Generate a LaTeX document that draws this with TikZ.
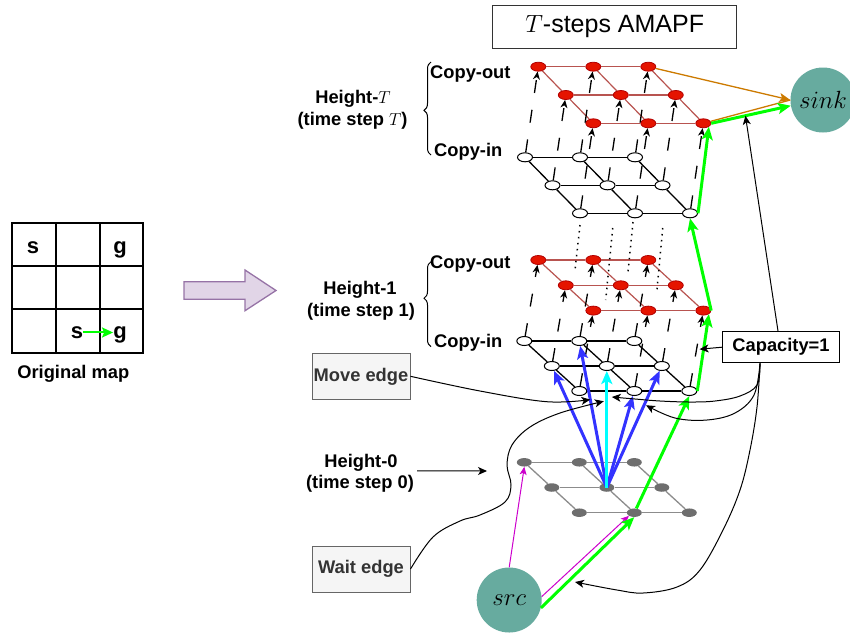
\documentclass[tikz,border=0pt]{standalone}
\usepackage{fontspec}
\setmainfont{Liberation Sans}
\usetikzlibrary{arrows.meta,shapes.geometric,decorations.pathreplacing,calc}

\definecolor{tealnode}{HTML}{67AB9F}
\definecolor{redfill}{HTML}{E51400}
\definecolor{reddraw}{HTML}{B20000}
\definecolor{redline}{HTML}{B85450}
\definecolor{grayfill}{HTML}{6E6E6E}
\definecolor{grayline}{HTML}{8C8C8C}
\definecolor{bluearr}{HTML}{3333FF}
\definecolor{cyanarr}{HTML}{00FFFF}
\definecolor{greenarr}{HTML}{00FF00}
\definecolor{magarr}{HTML}{CC00CC}
\definecolor{orangearr}{HTML}{CC7A00}
\definecolor{purplefill}{HTML}{E1D5E7}
\definecolor{purpledraw}{HTML}{9673A6}
\definecolor{notefill}{HTML}{F5F5F5}
\definecolor{notedraw}{HTML}{666666}
\definecolor{notetext}{HTML}{333333}

\tikzset{
  lbl/.style={font=\fontsize{18.3}{22}\selectfont\bfseries, inner sep=0pt},
  cellchar/.style={font=\fontsize{22}{24}\selectfont\bfseries, inner sep=0pt, anchor=base},
  outnode/.style={ellipse, draw=reddraw, fill=redfill, line width=0.8pt,
    minimum width=15pt, minimum height=9pt, inner sep=0pt},
  innode/.style={ellipse, draw=black, fill=white, line width=1pt,
    minimum width=15pt, minimum height=9pt, inner sep=0pt},
  basenode/.style={ellipse, fill=grayfill, minimum width=15pt, minimum height=8.5pt, inner sep=0pt},
  outedge/.style={draw=redline, line width=1.2pt},
  inedge/.style={draw=black, line width=1.3pt},
  baseedge/.style={draw=grayline, line width=1.3pt},
  vlink/.style={draw=black, line width=1.3pt, dash pattern=on 13pt off 17pt,
    -{Stealth[length=8pt,width=7pt,inset=2.5pt]}},
  dotline/.style={draw=black, line width=1.5pt, dash pattern=on 1.5pt off 4.5pt},
  fatarrow/.style={line width=3pt, -{Stealth[length=13pt,width=11pt,inset=3pt]}},
  pointer/.style={draw=black, line width=1pt, -{Stealth[length=9pt,width=8pt,inset=2.5pt]}},
  magline/.style={color=magarr, line width=1pt, -{Stealth[length=8pt,width=7pt,inset=2pt]}},
  orangeline/.style={color=orangearr, line width=1.3pt},
  notebox/.style={draw=notedraw, fill=notefill, text=notetext, line width=1pt,
    minimum width=98pt, minimum height=46pt, lbl},
  endpoint/.style={circle, fill=tealnode, minimum size=65pt, inner sep=0pt,
    font=\fontsize{24}{26}\selectfont},
}

\begin{document}
\begin{tikzpicture}[x=1pt,y=-1pt]
\useasboundingbox (0,0) rectangle (850,633);

% ---------- original 3x3 map ----------
\draw[line width=2pt] (11.7,222.7) rectangle (143.3,352.7);
\draw[line width=2pt] (55.6,222.7) -- (55.6,352.7) (99.5,222.7) -- (99.5,352.7)
  (11.7,265.9) -- (143.3,265.9) (11.7,309.3) -- (143.3,309.3);
\node[cellchar] (s1) at (33,253.3) {s};
\node[cellchar] (g1) at (120,253.3) {g};
\node[cellchar] (s2) at (77,338.3) {s};
\node[cellchar] (g2) at (120,338.3) {g};
\draw[color=greenarr, line width=2pt, -{Stealth[length=11pt,width=10pt,inset=2pt]}]
  (s2.east) -- (s2.east -| g2.west);
\node[lbl, anchor=base] (mapname) at (73.3,378.3) {Original map};

% ---------- transformation arrow ----------
\draw[draw=purpledraw, fill=purplefill, line width=1.3pt]
  (184,281.7) -- (245,281.7) -- (245,270) -- (276,290.5) -- (245,310.7)
  -- (245,299.3) -- (184,299.3) -- cycle;

% ---------- title ----------
\node[draw=black!80, line width=1pt, minimum width=244pt, minimum height=43pt,
  inner sep=0pt, font=\fontsize{25}{28}\selectfont] (title) at (614.7,26.7) {$T$-steps AMAPF};

% ---------- layered graph nodes ----------
\foreach \r in {0,1,2}{
  \foreach \c in {0,1,2}{
    \node[basenode] (z-\r-\c) at ({524.3+55*\c+27.5*\r},{462.3+25.2*\r}) {};
    \node[innode]   (i1-\r-\c) at ({524.3+55*\c+27.5*\r},{341+25*\r}) {};
    \node[outnode]  (o1-\r-\c) at ({538.3+55*\c+27.5*\r},{260+25.3*\r}) {};
    \node[innode]   (iT-\r-\c) at ({525+55*\c+27.5*\r},{157.3+28*\r}) {};
    \node[outnode]  (oT-\r-\c) at ({538.3+55*\c+27.5*\r},{66.7+28.3*\r}) {};
  }
}

% in-layer grid edges
\foreach \r in {0,1,2}{
  \foreach \c/\d in {0/1,1/2}{
    \draw[baseedge] (z-\r-\c) -- (z-\r-\d);
    \draw[inedge] (i1-\r-\c) -- (i1-\r-\d);
    \draw[outedge] (o1-\r-\c) -- (o1-\r-\d);
    \draw[inedge] (iT-\r-\c) -- (iT-\r-\d);
    \draw[outedge] (oT-\r-\c) -- (oT-\r-\d);
  }
}
\foreach \r/\s in {0/1,1/2}{
  \foreach \c in {0,1,2}{
    \draw[baseedge] (z-\r-\c) -- (z-\s-\c);
    \draw[inedge] (i1-\r-\c) -- (i1-\s-\c);
    \draw[outedge] (o1-\r-\c) -- (o1-\s-\c);
    \draw[inedge] (iT-\r-\c) -- (iT-\s-\c);
    \draw[outedge] (oT-\r-\c) -- (oT-\s-\c);
  }
}

% copy-in to copy-out links
\foreach \r in {0,1,2}{
  \foreach \c in {0,1,2}{
    \draw[vlink] (i1-\r-\c) -- (o1-\r-\c);
    \draw[vlink] (iT-\r-\c) -- (oT-\r-\c);
  }
}

% elided intermediate heights
\draw[dotline] (580,225) -- (575,270);
\draw[dotline] (612.7,228) -- (605.7,300);
\draw[dotline] (633,222) -- (628,272);
\draw[dotline] (662.7,228) -- (656.7,293);

% ---------- source and sink ----------
\node[endpoint] (sink) at (823,100) {$sink$};
\node[endpoint] (src) at (509.2,600) {$src$};

% move and wait edges out of the centre cell
\foreach \t in {i1-1-0,i1-0-1,i1-2-1,i1-1-2}{
  \draw[fatarrow, color=bluearr] (z-1-1.center) -- (\t);
}
\draw[fatarrow, color=cyanarr] (z-1-1.center) -- (i1-1-1);

% edges into the sink
\draw[orangeline, -{Stealth[length=11pt,width=9pt,inset=2.5pt]}] (oT-0-2) -- (sink.west);
\draw[orangeline] (oT-2-2) -- (sink.west);

% edges out of the source
\draw[magline] (src.6) -- (z-2-1.south west);
\draw[magline] (src.north) -- (z-0-0.south);

% flow path
\draw[fatarrow, color=greenarr] (src.-14) -- (z-2-1.south);
\draw[fatarrow, color=greenarr] (z-2-1) -- (i1-2-2.south);
\draw[fatarrow, color=greenarr] (i1-2-2.east) -- (o1-2-2.south east);
\draw[fatarrow, color=greenarr] (o1-2-2.east) -- (iT-2-2.south);
\draw[fatarrow, color=greenarr] (iT-2-2.east) -- (oT-2-2.south east);
\draw[fatarrow, color=greenarr] (oT-2-2.east) -- (sink.190);

% ---------- labels ----------
\node[lbl, anchor=base west] (coT) at (430,78.3) {Copy-out};
\node[lbl, anchor=base west] (ciT) at (434,156.7) {Copy-in};
\node[lbl, anchor=base west] (co1) at (430,268.3) {Copy-out};
\node[lbl, anchor=base west] (ci1) at (434,347.3) {Copy-in};

\node[lbl, anchor=base] (hTa) at (353,103.3) {Height-$T$};
\node[lbl, anchor=base] (hTb) at (352.5,125) {(time step $T$)};
\node[lbl, anchor=base] (h1a) at (360,294) {Height-1};
\node[lbl, anchor=base] (h1b) at (361,316.7) {(time step 1)};
\node[lbl, anchor=base] (h0a) at (361,467.3) {Height-0};
\node[lbl, anchor=base] (h0b) at (360,488.3) {(time step 0)};

\draw[line width=1pt, decorate, decoration={brace, amplitude=7pt, aspect=0.48}]
  (431,155) -- (431,62);
\draw[line width=1pt, decorate, decoration={brace, amplitude=7pt, aspect=0.57}]
  (431,346.7) -- (431,261.7);

\coordinate (h0tip) at (487,471);
\draw[pointer] ($(h0b.north east)+(3,-4)$) -- (h0tip);

\node[notebox] (move) at (361,376.3) {Move edge};
\node[notebox] (wait) at (361,569) {Wait edge};
\node[draw=black, fill=white, line width=1.3pt, minimum width=116.6pt, minimum height=31pt,
  lbl] (cap) at (781,347.2) {Capacity=1};

% ---------- callout connectors ----------
\coordinate (mvTip) at ($(z-1-1.center)!0.6!(i1-0-1.center)$);
\coordinate (wtTip) at ($(z-1-1.center)!0.71!(i1-1-1.center)+(-3,0)$);
\coordinate (capB) at ($(cap.south)+(-21,0)$);
\coordinate (capA) at ($(z-1-1.center)!0.745!(i1-1-1.center)+(5,0)$);
\coordinate (capC) at ($(z-1-1.center)!0.677!(i1-1-2.center)+(2,0)$);
\coordinate (capD) at (575,582);
\coordinate (capT) at ($(oT-2-2.east)!0.43!(sink.190)$);
\coordinate (capL) at ($(i1-2-2)!0.52!(o1-2-2)+(3,0)$);

\draw[pointer] plot[smooth, tension=0.6] coordinates {(move.east) (480,391) (546.7,401.7) (mvTip)};
\draw[pointer] plot[smooth, tension=0.6] coordinates {(wait.east) (433,537) (460,521) (480,515)
  (505,502) (511,485) (507,465) (512,445) (530,427) (560,413) (wtTip)};

\draw[pointer] (cap.west) -- (capL);
\draw[pointer] ([xshift=-3pt]cap.north) -- (capT);
\draw[pointer] plot[smooth, tension=0.6] coordinates {(capB) (757,385) (740,396) (715,401)
  (690,402) (660,401) (635,399) (capA)};
\draw[pointer] plot[smooth, tension=0.6] coordinates {(capB) (754,395) (735,413) (707,420)
  (675,418) (capC)};
\draw[pointer] plot[smooth, tension=0.6] coordinates {(capB) (757,407) (750,450) (740,490)
  (723,530) (700,570) (677,587) (643,593) (617,590) (capD)};

\end{tikzpicture}
\end{document}
